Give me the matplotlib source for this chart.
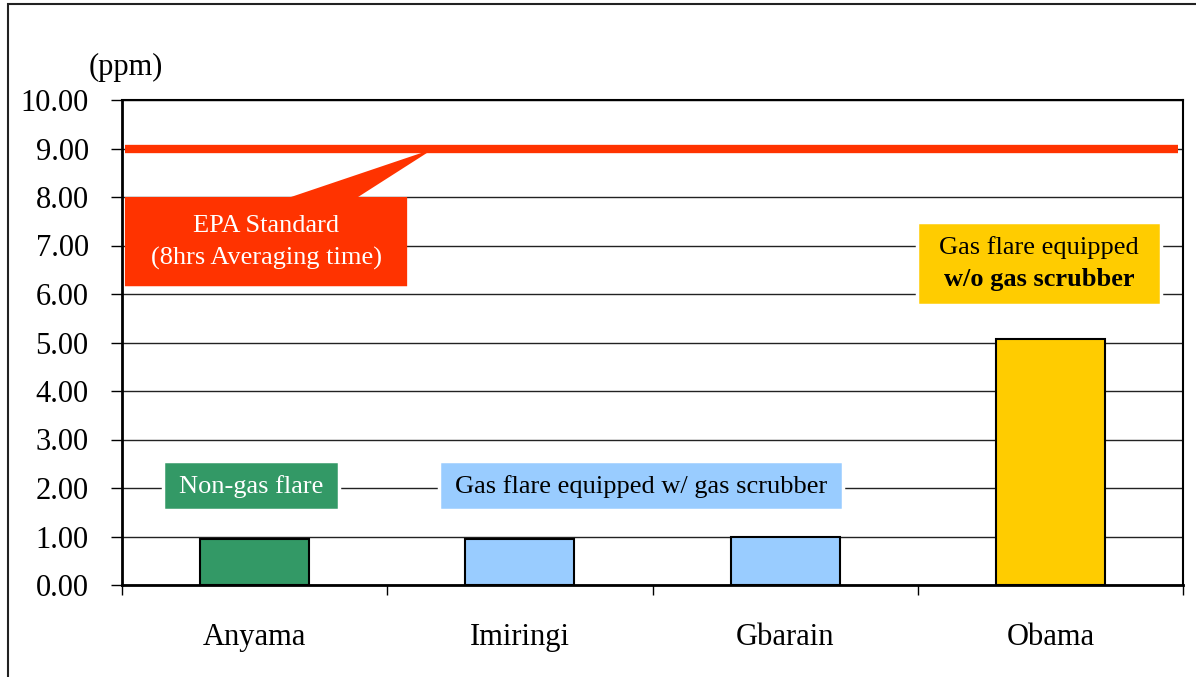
import matplotlib.pyplot as plt
from matplotlib.patches import Rectangle, Polygon

plt.rcParams["font.family"] = ["Liberation Serif", "DejaVu Serif"]

sites = ["Anyama", "Imiringi", "Gbarain", "Obama"]
co_ppm = [0.95, 0.95, 0.98, 5.07]
bar_colors = ["#339966", "#99CCFF", "#99CCFF", "#FFCC00"]
epa_standard = 9.0
y_ticks = [0, 1, 2, 3, 4, 5, 6, 7, 8, 9, 10]

fig = plt.figure(figsize=(11.96, 6.77), dpi=100)
ax = fig.add_axes([122 / 1196, 1 - 585 / 677, (1183 - 122) / 1196, (585 - 100) / 677])

x = list(range(len(sites)))
ax.set_axisbelow(True)
ax.yaxis.grid(True, color="#222222", linewidth=1.0)
ax.bar(x, co_ppm, width=0.41, color=bar_colors, edgecolor="black", linewidth=1.5, zorder=3)

# EPA line
ax.hlines(epa_standard, -0.49, 3.48, color="#FF3300", linewidth=6, zorder=4)

ax.set_xlim(-0.5, 3.5)
ax.set_ylim(0, 10)
ax.set_yticks(y_ticks)
ax.set_yticklabels(["%.2f" % v for v in y_ticks])
ax.set_xticks(x)
ax.set_xticklabels(sites)
ax.set_xticks([-0.5, 0.5, 1.5, 2.5, 3.5], minor=True)
ax.tick_params(axis="x", which="major", length=0, pad=27.5, labelsize=22)
ax.tick_params(axis="x", which="minor", length=7, width=1, direction="out")
ax.tick_params(axis="y", length=8, width=1, direction="out", pad=16, labelsize=22)
for side in ["left", "bottom"]:
    ax.spines[side].set_linewidth(2)
for side in ["top", "right"]:
    ax.spines[side].set_linewidth(1.5)

ax.text(-0.625, 10.68, "(ppm)", fontsize=22, ha="left", va="center")

# EPA callout
callout = Polygon(
    [(-0.489, 8.0), (0.137, 8.0), (0.673, 8.99), (0.39, 8.0), (0.575, 8.0),
     (0.575, 6.16), (-0.489, 6.16)],
    closed=True, facecolor="#FF3300", edgecolor="none", zorder=5)
ax.add_patch(callout)
ax.text(0.043, 7.07, "EPA Standard\n(8hrs Averaging time)", color="white", fontsize=19,
        ha="center", va="center", linespacing=1.55, zorder=6)

# category boxes
boxes = [
    (-0.347, 1.55, 0.666, 1.0, "#339966"),
    (0.695, 1.55, 1.525, 1.0, "#99CCFF"),
    (2.497, 5.77, 0.92, 1.71, "#FFCC00"),
]
for bx, by, bw, bh, bc in boxes:
    ax.add_patch(Rectangle((bx, by), bw, bh, facecolor=bc, edgecolor="white",
                           linewidth=2.5, zorder=5))
ax.text(-0.014, 2.03, "Non-gas flare", color="white", fontsize=19, ha="center",
        va="center", zorder=6)
ax.text(1.457, 2.03, "Gas flare equipped w/ gas scrubber", color="black", fontsize=19,
        ha="center", va="center", zorder=6)
ax.text(2.957, 6.95, "Gas flare equipped", color="black", fontsize=19, ha="center",
        va="center", zorder=6)
ax.text(2.957, 6.29, "w/o gas scrubber", color="black", fontsize=19, ha="center",
        va="center", fontweight="bold", zorder=6)

# outer frame (cut off at right and bottom)
fig.add_artist(Rectangle((8 / 1196, -0.1), 1.2, 1.1 - 4 / 677, transform=fig.transFigure,
                         facecolor="none", edgecolor="#222222", linewidth=1.5,
                         clip_on=False))

fig.savefig("out.png", dpi=100)
